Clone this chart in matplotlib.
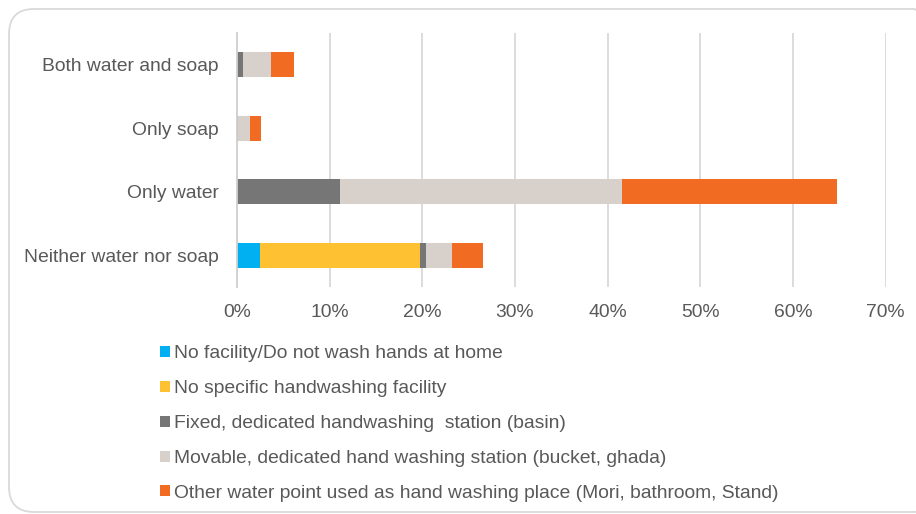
import matplotlib
matplotlib.use("Agg")
import matplotlib.pyplot as plt
from matplotlib.patches import FancyBboxPatch, Patch
import numpy as np

plt.rcParams['font.family'] = ['Liberation Sans', 'DejaVu Sans']

categories = ["Neither water nor soap", "Only water", "Only soap", "Both water and soap"]
series_names = [
    "No facility/Do not wash hands at home",
    "No specific handwashing facility",
    "Fixed, dedicated handwashing  station (basin)",
    "Movable, dedicated hand washing station (bucket, ghada)",
    "Other water point used as hand washing place (Mori, bathroom, Stand)",
]
no_facility = [2.5, 0.0, 0.0, 0.0]
no_specific = [17.3, 0.0, 0.0, 0.0]
fixed_station = [0.6, 11.1, 0.15, 0.65]
movable_station = [2.8, 30.5, 1.2, 3.05]
other_point = [3.4, 23.2, 1.2, 2.5]
colors = ["#00B0F0", "#FDC132", "#767676", "#D8D1CB", "#F26B22"]
xticks = [0, 10, 20, 30, 40, 50, 60, 70]

W, H = 916, 514
fig = plt.figure(figsize=(W / 100, H / 100), dpi=100)
ax = fig.add_axes([237 / W, 1 - 287 / H, (885.5 - 237) / W, (287 - 33) / H])

text_color = "#595959"
fs = 13.9
y = np.arange(len(categories))
left = np.zeros(len(categories))
for vals, c, name in zip([no_facility, no_specific, fixed_station, movable_station, other_point], colors, series_names):
    ax.barh(y, vals, left=left, color=c, height=0.4, label=name, zorder=3)
    left += np.array(vals)

ax.set_xlim(0, 70)
ax.set_ylim(-0.5, 3.5)
ax.set_xticks(xticks)
ax.set_xticklabels([f"{t}%" for t in xticks])
ax.set_yticks(y)
ax.set_yticklabels(categories)
ax.tick_params(axis='both', length=0, colors=text_color, labelsize=fs)
ax.tick_params(axis='x', pad=12)
ax.tick_params(axis='y', pad=13)
ax.grid(axis='x', color="#D9D9D9", linewidth=1.3, zorder=0)
for s in ["top", "right", "bottom"]:
    ax.spines[s].set_visible(False)
ax.spines["left"].set_color("#D0D0D0")
ax.spines["left"].set_linewidth(1.3)
ax.spines["left"].set_zorder(4)

handles = [Patch(facecolor=c, edgecolor='none') for c in colors]
leg = fig.legend(handles, series_names, loc='upper left', bbox_to_anchor=(160 / W, 1 - 345 / H),
                 frameon=False, fontsize=fs, handlelength=0.5, handleheight=0.5,
                 handletextpad=0.25, labelspacing=0.93, borderaxespad=0, borderpad=0)
for t in leg.get_texts():
    t.set_color(text_color)

border = FancyBboxPatch((9, 2), 930, 503, boxstyle="round,pad=0,rounding_size=25",
                        transform=None, facecolor='none', edgecolor="#D9D9D9", linewidth=1.3)
fig.patches.append(border)

fig.savefig("out.png", dpi=100)
